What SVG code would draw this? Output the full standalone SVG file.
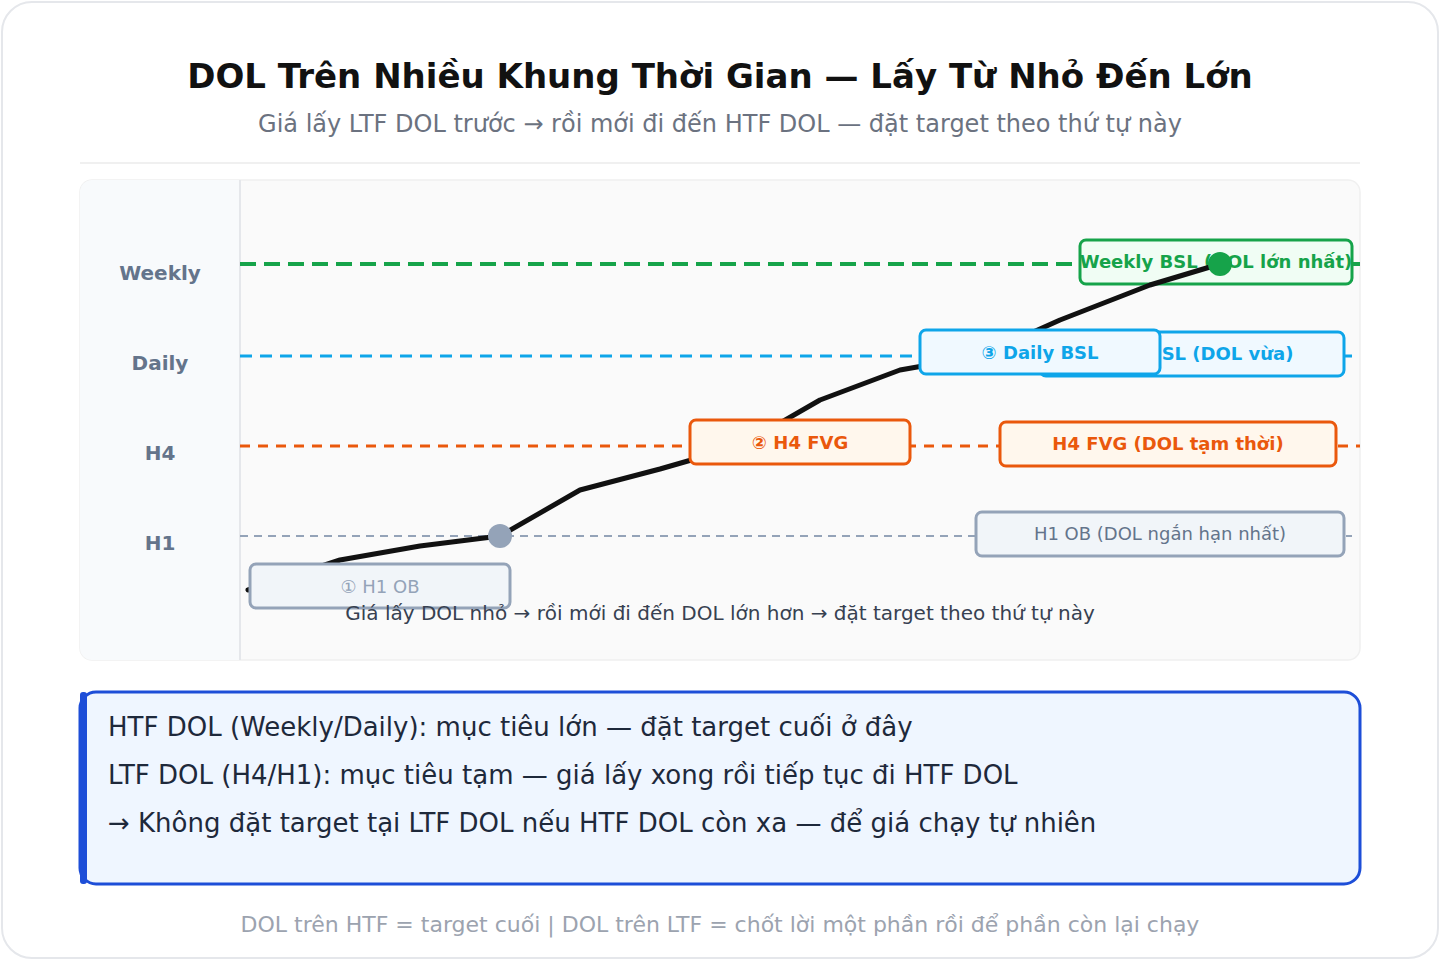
<svg xmlns="http://www.w3.org/2000/svg" width="1440" height="960" viewBox="0 0 1440 960">
<style>
text{font-family:"DejaVu Sans","Noto Sans",sans-serif}
.lbl{font-size:20px;font-weight:bold;fill:#64748b;text-anchor:middle}
.bt{font-size:18px;font-weight:bold;text-anchor:middle}
.info{font-size:26px;fill:#1e293b}
</style>
<rect x="2" y="2" width="1436" height="956" rx="30" fill="#ffffff" stroke="#e5e7eb" stroke-width="2"/>
<text x="720" y="88" font-size="34" font-weight="bold" fill="#111111" text-anchor="middle">DOL Trên Nhiều Khung Thời Gian — Lấy Từ Nhỏ Đến Lớn</text>
<text x="720" y="132" font-size="24" fill="#6b7280" text-anchor="middle">Giá lấy LTF DOL trước → rồi mới đi đến HTF DOL — đặt target theo thứ tự này</text>
<line x1="80" y1="163" x2="1360" y2="163" stroke="#f0f0f0" stroke-width="2"/>

<g id="chart-panel">
<rect x="80" y="180" width="1280" height="480" rx="12" fill="#fafafa" stroke="#f0f0f0" stroke-width="1.5"/>
<path d="M92,180 H240 V660 H92 A12,12 0 0 1 80,648 V192 A12,12 0 0 1 92,180 Z" fill="#f8fafc"/>
<line x1="240" y1="180" x2="240" y2="660" stroke="#e5e7eb" stroke-width="2"/>
<text class="lbl" x="160" y="280">Weekly</text>
<text class="lbl" x="160" y="370">Daily</text>
<text class="lbl" x="160" y="460">H4</text>
<text class="lbl" x="160" y="550">H1</text>
</g>

<g id="levels">
<line x1="240" y1="264" x2="1360" y2="264" stroke="#16a34a" stroke-width="4" stroke-dasharray="16 8"/>
<line x1="240" y1="356" x2="1352" y2="356" stroke="#0ea5e9" stroke-width="3" stroke-dasharray="12 8"/>
<line x1="240" y1="446" x2="1360" y2="446" stroke="#ea580c" stroke-width="3" stroke-dasharray="10 8"/>
<line x1="240" y1="536" x2="1352" y2="536" stroke="#94a3b8" stroke-width="2" stroke-dasharray="8 6"/>
</g>

<g id="target-weekly">
<rect x="1080" y="240" width="272" height="44" rx="6" fill="#f0fdf4" stroke="#16a34a" stroke-width="3"/>
<text class="bt" x="1216" y="268" fill="#16a34a">Weekly BSL (DOL lớn nhất)</text>
</g>
<g id="target-daily">
<rect x="1040" y="332" width="304" height="44" rx="6" fill="#f0f9ff" stroke="#0ea5e9" stroke-width="3"/>
<text class="bt" x="1192" y="360" fill="#0ea5e9">Daily BSL (DOL vừa)</text>
</g>
<g id="target-h4">
<rect x="1000" y="422" width="336" height="44" rx="6" fill="#fff7ed" stroke="#ea580c" stroke-width="3"/>
<text class="bt" x="1168" y="450" fill="#ea580c">H4 FVG (DOL tạm thời)</text>
</g>
<g id="target-h1">
<rect x="976" y="512" width="368" height="44" rx="6" fill="#f1f5f9" stroke="#94a3b8" stroke-width="3"/>
<text x="1160" y="540" font-size="18" fill="#64748b" text-anchor="middle">H1 OB (DOL ngắn hạn nhất)</text>
</g>

<g id="connectors">
<polyline points="248,590 340,560 420,546 500,536 580,490 660,469 740,446 820,400 900,370 980,356 1060,320 1150,285 1220,264" fill="none" stroke="#111111" stroke-width="5" stroke-linejoin="round" stroke-linecap="round"/>
</g>

<g id="step-1">
<rect x="250" y="564" width="260" height="44" rx="6" fill="#f1f5f9" stroke="#94a3b8" stroke-width="3"/>
<text x="380" y="593" font-size="18" fill="#94a3b8" text-anchor="middle">① H1 OB</text>
</g>
<g id="step-2">
<rect x="690" y="420" width="220" height="44" rx="6" fill="#fff7ed" stroke="#ea580c" stroke-width="3"/>
<text class="bt" x="800" y="449" fill="#ea580c">② H4 FVG</text>
</g>
<g id="step-3">
<rect x="920" y="330" width="240" height="44" rx="6" fill="#f0f9ff" stroke="#0ea5e9" stroke-width="3"/>
<text class="bt" x="1040" y="359" fill="#0ea5e9">③ Daily BSL</text>
</g>

<g id="points">
<circle cx="500" cy="536" r="12" fill="#94a3b8"/>
<circle cx="1220" cy="264" r="12" fill="#16a34a"/>
</g>

<text x="720" y="620" font-size="20" fill="#374151" text-anchor="middle">Giá lấy DOL nhỏ → rồi mới đi đến DOL lớn hơn → đặt target theo thứ tự này</text>

<g id="info-box">
<rect x="80" y="692" width="1280" height="192" rx="16" fill="#eff6ff" stroke="#1d4ed8" stroke-width="3"/>
<rect x="80" y="692" width="7" height="192" rx="3" fill="#1d4ed8"/>
<text class="info" x="108" y="736">HTF DOL (Weekly/Daily): mục tiêu lớn — đặt target cuối ở đây</text>
<text class="info" x="108" y="784">LTF DOL (H4/H1): mục tiêu tạm — giá lấy xong rồi tiếp tục đi HTF DOL</text>
<text class="info" x="108" y="832">→ Không đặt target tại LTF DOL nếu HTF DOL còn xa — để giá chạy tự nhiên</text>
</g>

<text x="720" y="932" font-size="22" fill="#9ca3af" text-anchor="middle">DOL trên HTF = target cuối | DOL trên LTF = chốt lời một phần rồi để phần còn lại chạy</text>
</svg>
